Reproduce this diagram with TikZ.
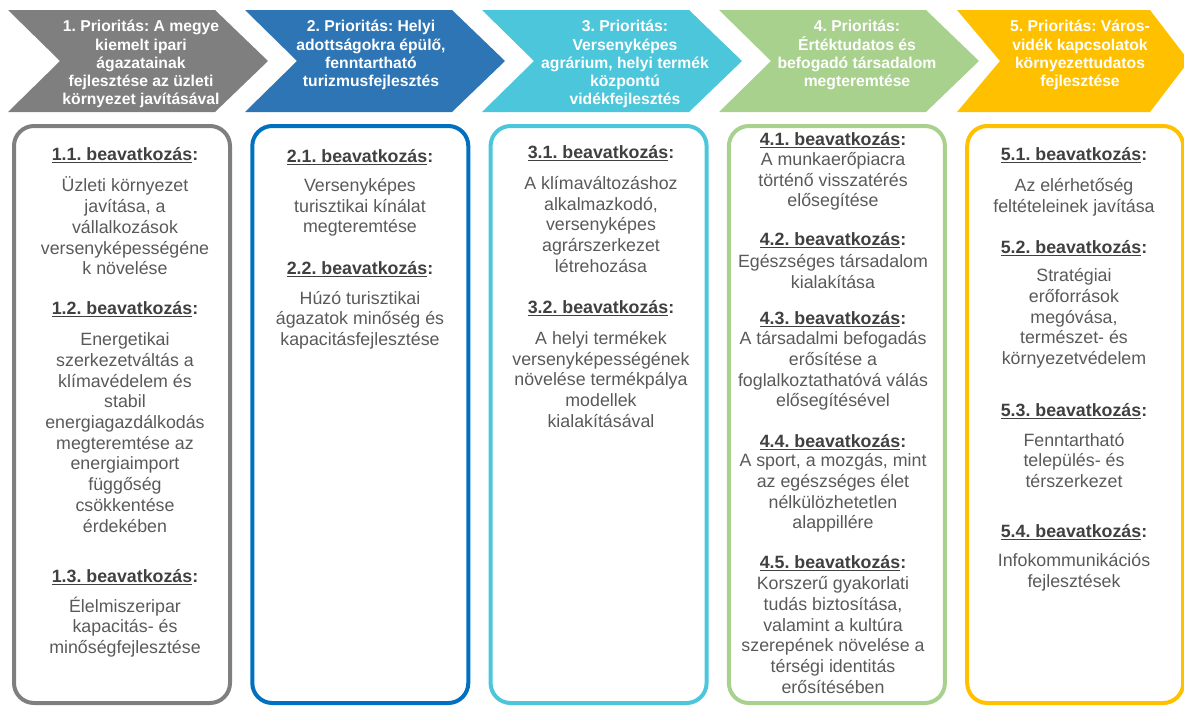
\documentclass[tikz,border=0pt]{standalone}
\usepackage{fontspec}
\setmainfont{Liberation Sans}
\usepackage{xcolor}
\usepackage{tikz}
\definecolor{prioGrey}{HTML}{7F7F7F}
\definecolor{prioBlue}{HTML}{2E75B6}
\definecolor{prioCyan}{HTML}{4BC6DA}
\definecolor{prioGreen}{HTML}{A9D18E}
\definecolor{prioGold}{HTML}{FFC000}
\definecolor{frameBlue}{HTML}{0070C0}
\definecolor{titleText}{HTML}{404040}
\definecolor{plainText}{HTML}{595959}
\newcommand{\beavul}[1]{\setbox0\hbox{#1}\rlap{\rule[-2.8pt]{\wd0}{1.4pt}}\box0}
\frenchspacing

\begin{document}
\begin{tikzpicture}[x=1pt,y=-1pt,
    prio/.style={text=white, font=\fontsize{15.7}{18.3}\selectfont\bfseries, align=center, anchor=north, inner sep=0pt},
    beav title/.style={text=titleText, font=\fontsize{17.8}{20.7}\selectfont\bfseries, inner sep=0pt},
    beav text/.style={text=plainText, font=\fontsize{17.8}{20.7}\selectfont, align=center, inner sep=0pt},
    prioframe/.style={line width=4pt, rounded corners=20pt}]
    \useasboundingbox (0,0) rectangle (1184,707);

    % Priorities
    \foreach \i/\col in {0/prioGrey, 1/prioBlue, 2/prioCyan, 3/prioGreen} {
        \fill[\col] ({8+237*\i},10) -- ++(207,0) -- ++(53,51) -- ++(-53,51) -- ++(-207,0) -- ++(52,-51) -- cycle;
    }
    \fill[prioGold] (957,10) -- (1150,10) -- (1189,61) -- (1150,112) -- (957,112) -- (1000,61) -- cycle;

    \node[prio] (p1) at (141,20) {1. Prioritás: A megye\\kiemelt ipari\\ágazatainak\\fejlesztése az üzleti\\környezet javításával};
    \node[prio] (p2) at (371,20) {2. Prioritás: Helyi\\adottságokra épülő,\\fenntartható\\turizmusfejlesztés};
    \node[prio] (p3) at (625,20) {3. Prioritás:\\Versenyképes\\agrárium, helyi termék\\központú\\vidékfejlesztés};
    \node[prio] (p4) at (857,20) {4. Prioritás:\\Értéktudatos és\\befogadó társadalom\\megteremtése};
    \node[prio] (p5) at (1080,20) {5. Prioritás: Város-\\vidék kapcsolatok\\környezettudatos\\fejlesztése};

    % Frames
    \foreach \i/\col in {0/prioGrey, 1/frameBlue, 2/prioCyan, 3/prioGreen, 4/prioGold} {
        \draw[prioframe, \col] ({14+238.3*\i},126) rectangle ++(216,577);
    }

    % 1. column
    \node[beav title] (t11) at (125,155) {\beavul{1.1. beavatkozás}:};
    \node[beav text] (x11) at (125,226) {Üzleti környezet\\javítása, a\\vállalkozások\\versenyképességéne\\k növelése};
    \node[beav title] (t12) at (125,309) {\beavul{1.2. beavatkozás}:};
    \node[beav text] (x12) at (125,432.5) {Energetikai\\szerkezetváltás a\\klímavédelem és\\stabil\\energiagazdálkodás\\megteremtése az\\energiaimport\\függőség\\csökkentése\\érdekében};
    \node[beav title] (t13) at (125,577) {\beavul{1.3. beavatkozás}:};
    \node[beav text] (x13) at (125,627) {Élelmiszeripar\\kapacitás- és\\minőségfejlesztése};

    % 2. column
    \node[beav title] (t21) at (360,157) {\beavul{2.1. beavatkozás}:};
    \node[beav text] (x21) at (360,207.5) {Versenyképes\\turisztikai kínálat\\megteremtése};
    \node[beav title] (t22) at (360,269) {\beavul{2.2. beavatkozás}:};
    \node[beav text] (x22) at (360,320) {Húzó turisztikai\\ágazatok minőség és\\kapacitásfejlesztése};

    % 3. column
    \node[beav title] (t31) at (601,153) {\beavul{3.1. beavatkozás}:};
    \node[beav text] (x31) at (601,224.5) {A klímaváltozáshoz\\alkalmazkodó,\\versenyképes\\agrárszerkezet\\létrehozása};
    \node[beav title] (t32) at (601,308) {\beavul{3.2. beavatkozás}:};
    \node[beav text] (x32) at (601,379.5) {A helyi termékek\\versenyképességének\\növelése termékpálya\\modellek\\kialakításával};

    % 4. column
    \node[beav title] (t41) at (833,140) {\beavul{4.1. beavatkozás}:};
    \node[beav text] (x41) at (833,181.5) {A munkaerőpiacra\\történő visszatérés\\elősegítése};
    \node[beav title] (t42) at (833,240) {\beavul{4.2. beavatkozás}:};
    \node[beav text] (x42) at (833,271.5) {Egészséges társadalom\\kialakítása};
    \node[beav title] (t43) at (833,319) {\beavul{4.3. beavatkozás}:};
    \node[beav text] (x43) at (833,371) {A társadalmi befogadás\\erősítése a\\foglalkoztathatóvá válás\\elősegítésével};
    \node[beav title] (t44) at (833,442) {\beavul{4.4. beavatkozás}:};
    \node[beav text] (x44) at (833,493) {A sport, a mozgás, mint\\az egészséges élet\\nélkülözhetetlen\\alappillére};
    \node[beav title] (t45) at (833,563) {\beavul{4.5. beavatkozás}:};
    \node[beav text] (x45) at (833,635) {Korszerű gyakorlati\\tudás biztosítása,\\valamint a kultúra\\szerepének növelése a\\térségi identitás\\erősítésében};

    % 5. column
    \node[beav title] (t51) at (1074,155) {\beavul{5.1. beavatkozás}:};
    \node[beav text] (x51) at (1074,197) {Az elérhetőség\\feltételeinek javítása};
    \node[beav title] (t52) at (1074,248) {\beavul{5.2. beavatkozás}:};
    \node[beav text] (x52) at (1074,318.5) {Stratégiai\\erőforrások\\megóvása,\\természet- és\\környezetvédelem};
    \node[beav title] (t53) at (1074,411) {\beavul{5.3. beavatkozás}:};
    \node[beav text] (x53) at (1074,460.5) {Fenntartható\\település- és\\térszerkezet};
    \node[beav title] (t54) at (1074,532) {\beavul{5.4. beavatkozás}:};
    \node[beav text] (x54) at (1074,572.5) {Infokommunikációs\\fejlesztések};
\end{tikzpicture}
\end{document}
